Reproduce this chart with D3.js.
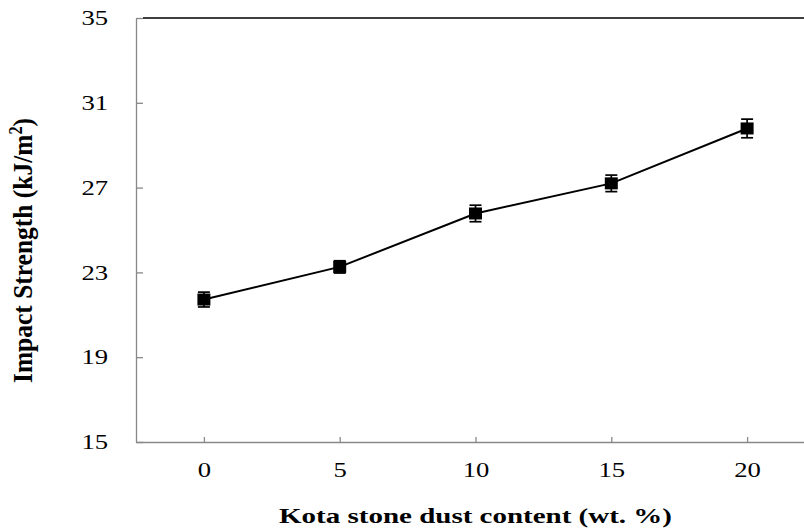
<!DOCTYPE html>
<html>
<head>
<meta charset="utf-8">
<script src="https://cdn.jsdelivr.net/npm/d3@7"></script>
<style>
  html, body { margin: 0; padding: 0; background: #fff; overflow: hidden; }
  svg { display: block; }
</style>
</head>
<body>
<svg id="chart" width="804" height="531"></svg>
<script>
// ---- data ----
const dustContent = [0, 5, 10, 15, 20];
const impactStrength = [21.72, 23.26, 25.78, 27.2, 29.79];
const errorValues = [0.35, 0.29, 0.39, 0.39, 0.44];
const yTicks = [15, 19, 23, 27, 31, 35];
const xTicks = [0, 5, 10, 15, 20];
const xTitle = "Kota stone dust content (wt. %)";
const yTitleMain = "Impact Strength (kJ/m";
const yTitleSup = "2";
const yTitleEnd = ")";

// ---- layout ----
const W = 804, H = 531;
const plotLeft = 136, plotRight = 815, plotTop = 18, plotBottom = 442;
const font = "'Liberation Serif', 'Times New Roman', serif";
const axisColor = "#888888";
const sx = 1.27;

const svg = d3.select("#chart");

const x = d3.scaleLinear().domain([-2.5, 22.5]).range([plotLeft, plotRight]);
const y = d3.scaleLinear().domain([15, 35]).range([plotBottom, plotTop]);

// top border line (black)
svg.append("line")
  .attr("x1", plotLeft + 7).attr("x2", W)
  .attr("y1", y(35)).attr("y2", y(35))
  .attr("stroke", "#000").attr("stroke-width", 1.4);

// y axis
const yAxis = svg.append("g")
  .attr("transform", `translate(${plotLeft},0)`)
  .call(d3.axisLeft(y).tickValues(yTicks).tickFormat(d3.format("d"))
        .tickSizeInner(-7).tickSizeOuter(0).tickPadding(22));
yAxis.select(".domain").attr("stroke", axisColor).attr("stroke-width", 1.3);
yAxis.selectAll(".tick line").attr("stroke", axisColor).attr("stroke-width", 1.3);
yAxis.selectAll(".tick text")
  .attr("font-family", font).attr("font-size", 21).attr("fill", "#000")
  .attr("transform", `scale(${sx},1)`);

// x axis
const xAxis = svg.append("g")
  .attr("transform", `translate(0,${plotBottom})`)
  .call(d3.axisBottom(x).tickValues(xTicks).tickFormat(d3.format("d"))
        .tickSizeInner(-5).tickSizeOuter(0).tickPadding(20));
xAxis.select(".domain").attr("stroke", axisColor).attr("stroke-width", 1.3);
xAxis.selectAll(".tick line").attr("stroke", axisColor).attr("stroke-width", 1.3);
xAxis.selectAll(".tick text")
  .attr("font-family", font).attr("font-size", 21).attr("fill", "#000")
  .attr("transform", `scale(${sx},1)`);

// ---- series ----
const pts = dustContent.map((d, i) => ({ x: d, y: impactStrength[i], e: errorValues[i] }));

svg.append("path")
  .datum(pts)
  .attr("fill", "none").attr("stroke", "#000").attr("stroke-width", 2)
  .attr("d", d3.line().x(d => x(d.x)).y(d => y(d.y)));

const eb = svg.append("g").attr("stroke", "#000").attr("stroke-width", 1.7);
pts.forEach(d => {
  const cx = x(d.x);
  eb.append("line").attr("x1", cx).attr("x2", cx).attr("y1", y(d.y - d.e)).attr("y2", y(d.y + d.e));
  [d.y - d.e, d.y + d.e].forEach(v => {
    eb.append("line").attr("x1", cx - 6).attr("x2", cx + 6).attr("y1", y(v)).attr("y2", y(v));
  });
});

svg.append("g").selectAll("rect").data(pts).join("rect")
  .attr("x", d => x(d.x) - 6.5).attr("y", d => y(d.y) - 6)
  .attr("width", 13).attr("height", 12)
  .attr("fill", "#000");

// ---- titles ----
svg.append("text")
  .attr("x", (279 + 672) / 2).attr("y", 523)
  .attr("text-anchor", "middle")
  .attr("font-family", font).attr("font-size", 22).attr("font-weight", "bold")
  .attr("textLength", 393).attr("lengthAdjust", "spacingAndGlyphs")
  .text(xTitle);

const yt = svg.append("text")
  .attr("transform", `translate(32,250.5) scale(${sx},1) rotate(-90)`)
  .attr("text-anchor", "middle")
  .attr("font-family", font).attr("font-size", 22).attr("font-weight", "bold")
  .attr("textLength", 265).attr("lengthAdjust", "spacingAndGlyphs");
yt.append("tspan").text(yTitleMain);
yt.append("tspan").attr("dy", -8).attr("font-size", 14).text(yTitleSup);
yt.append("tspan").attr("dy", 8).text(yTitleEnd);
</script>
</body>
</html>
